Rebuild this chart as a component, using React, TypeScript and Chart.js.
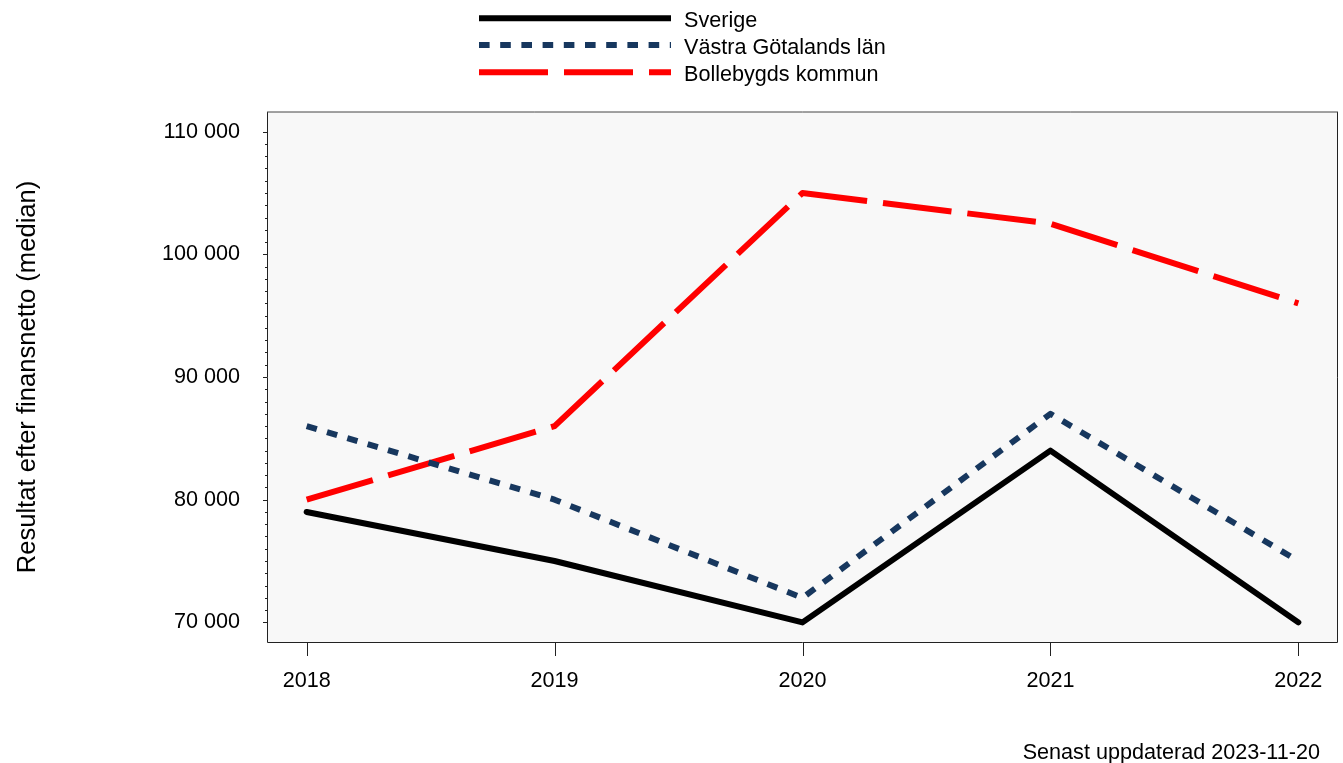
import React, { useEffect, useRef } from "react";
import { Chart, registerables } from "chart.js";

Chart.register(...registerables);

const years = [2018, 2019, 2020, 2021, 2022];
const sverige = [79000, 75000, 70000, 84000, 70000];
const vastraGotaland = [86000, 80000, 72000, 87000, 75000];
const bollebygd = [80000, 86000, 105000, 102500, 96000];
const seriesNames = ["Sverige", "Västra Götalands län", "Bollebygds kommun"];
const seriesColors = ["#000000", "#17375e", "#ff0000"];
const seriesDashes: number[][] = [[], [10.6, 10.6], [69, 16]];
const yTickValues = [70000, 80000, 90000, 100000, 110000];
const yMinorStep = 1000;
const yAxisTitle = "Resultat efter finansnetto (median)";
const footnote = "Senast uppdaterad 2023-11-20";

const FAMILY = "'Liberation Sans', Arial, sans-serif";
const SIZE = 21.6;
const FONT = `${SIZE}px ${FAMILY}`;
const TITLE_FONT = `25.6px ${FAMILY}`;

const fmt = (v: number) =>
  String(Math.round(v)).replace(/\B(?=(\d{3})+(?!\d))/g, " ");

const decorPlugin = {
  id: "decor",
  beforeDraw(chart: any) {
    const { ctx, chartArea } = chart;
    ctx.save();
    ctx.fillStyle = "#f8f8f8";
    ctx.fillRect(
      chartArea.left,
      chartArea.top,
      chartArea.right - chartArea.left,
      chartArea.bottom - chartArea.top
    );
    ctx.restore();
  },
  afterDraw(chart: any) {
    const { ctx, chartArea } = chart;
    const xs = chart.scales.x;
    const ys = chart.scales.y;
    const L = chartArea.left;
    const R = chartArea.right;
    const T = chartArea.top;
    const B = chartArea.bottom;
    ctx.save();
    // box
    ctx.strokeStyle = "#222";
    ctx.lineWidth = 1;
    ctx.beginPath();
    ctx.moveTo(L + 0.5, T);
    ctx.lineTo(L + 0.5, B + 0.5);
    ctx.lineTo(R - 0.5, B + 0.5);
    ctx.lineTo(R - 0.5, T);
    ctx.stroke();
    ctx.strokeStyle = "#444";
    ctx.beginPath();
    ctx.moveTo(L, T);
    ctx.lineTo(R, T);
    ctx.stroke();

    // y ticks (major + minor)
    ctx.strokeStyle = "#222";
    const yLo = yTickValues[0];
    const yHi = yTickValues[yTickValues.length - 1];
    for (let v = yLo; v <= yHi; v += yMinorStep) {
      const py = Math.round(ys.getPixelForValue(v)) + 0.5;
      const major = yTickValues.includes(v);
      ctx.beginPath();
      ctx.moveTo(L - (major ? 4 : 2), py);
      ctx.lineTo(L, py);
      ctx.stroke();
    }
    // x ticks
    for (const yr of years) {
      const px = Math.round(xs.getPixelForValue(yr)) + 0.5;
      ctx.beginPath();
      ctx.moveTo(px, B + 1);
      ctx.lineTo(px, B + 14);
      ctx.stroke();
    }

    // y axis title
    ctx.fillStyle = "#000";
    ctx.save();
    ctx.font = TITLE_FONT;
    ctx.translate(27.5, (T + B) / 2);
    ctx.rotate(-Math.PI / 2);
    ctx.textAlign = "center";
    ctx.textBaseline = "middle";
    ctx.fillText(yAxisTitle, 0, 0);
    ctx.restore();

    ctx.font = FONT;
    // footnote
    ctx.textAlign = "right";
    ctx.textBaseline = "alphabetic";
    ctx.fillText(footnote, 1320, 759);

    // legend
    const rows = [18.3, 45, 72.2];
    seriesNames.forEach((name, i) => {
      const y = rows[i];
      ctx.strokeStyle = seriesColors[i];
      ctx.lineWidth = 6;
      ctx.lineCap = "butt";
      ctx.setLineDash(seriesDashes[i]);
      ctx.beginPath();
      ctx.moveTo(479, y);
      ctx.lineTo(671, y);
      ctx.stroke();
      ctx.setLineDash([]);
      ctx.fillStyle = "#000";
      ctx.textAlign = "left";
      ctx.textBaseline = "alphabetic";
      ctx.fillText(name, 684, y + 9);
    });
    ctx.restore();
  },
};

export default function App() {
  const ref = useRef<HTMLCanvasElement | null>(null);
  useEffect(() => {
    if (!ref.current) return;
    const seriesData = [sverige, vastraGotaland, bollebygd];
    const chart = new Chart(ref.current, {
      type: "line",
      data: {
        datasets: seriesData.map((vals, i) => ({
          label: seriesNames[i],
          data: years.map((yr, k) => ({ x: yr, y: vals[k] })),
          borderColor: seriesColors[i],
          borderWidth: 6,
          borderDash: seriesDashes[i],
          borderCapStyle: i === 0 ? "round" : "butt",
          borderJoinStyle: "round",
          pointRadius: 0,
          pointHoverRadius: 0,
          tension: 0,
          fill: false,
        })),
      },
      options: {
        responsive: false,
        animation: false,
        events: [],
        layout: { padding: { top: 112, right: 5, bottom: 0, left: 0 } },
        plugins: {
          legend: { display: false },
          tooltip: { enabled: false },
          title: { display: false },
        },
        scales: {
          x: {
            type: "linear",
            min: 2017.84,
            max: 2022.16,
            afterBuildTicks: (s: any) => {
              s.ticks = years.map((v) => ({ value: v }));
            },
            afterFit: (s: any) => {
              s.height = 121;
              s.paddingLeft = 0;
              s.paddingRight = 0;
            },
            grid: { display: false, drawTicks: false },
            border: { display: false },
            ticks: {
              autoSkip: false,
              maxRotation: 0,
              padding: 26,
              color: "#000",
              font: { family: FAMILY, size: SIZE },
              callback: (v: any) => String(v),
            },
          },
          y: {
            type: "linear",
            min: 68400,
            max: 111600,
            afterBuildTicks: (s: any) => {
              s.ticks = yTickValues.map((v) => ({ value: v }));
            },
            afterFit: (s: any) => {
              s.width = 267;
              s.paddingTop = 0;
              s.paddingBottom = 0;
            },
            grid: { display: false, drawTicks: false },
            border: { display: false },
            ticks: {
              autoSkip: false,
              padding: 27,
              color: "#000",
              font: { family: FAMILY, size: SIZE },
              callback: (v: any) => fmt(Number(v)),
            },
          },
        },
      },
      plugins: [decorPlugin],
    } as any);
    return () => chart.destroy();
  }, []);
  return (
    <div
      style={{
        position: "fixed",
        left: 0,
        top: 0,
        width: 1343,
        height: 763,
        background: "#fff",
      }}
    >
      <canvas
        ref={ref}
        width={1343}
        height={763}
        style={{ width: 1343, height: 763, display: "block" }}
      />
    </div>
  );
}
